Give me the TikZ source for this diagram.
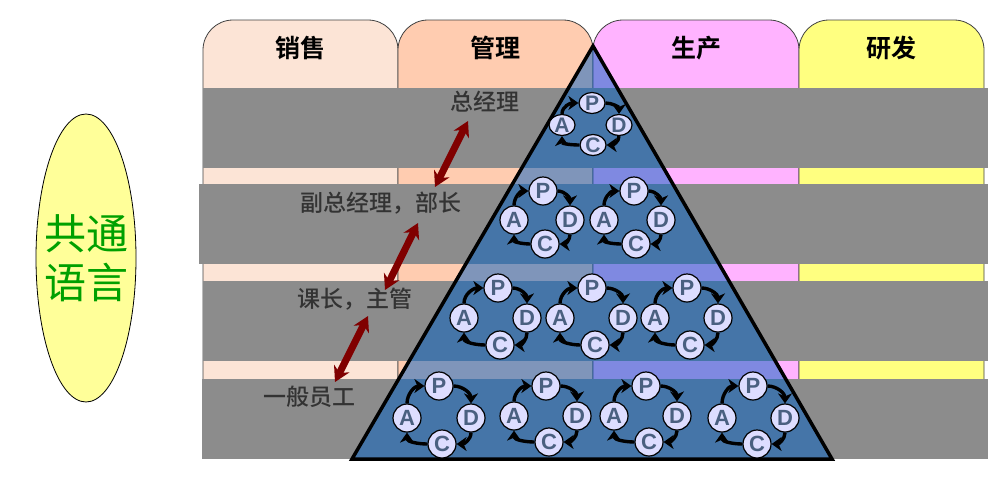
\documentclass[tikz,border=0pt]{standalone}
\usepackage{fontspec}
\usepackage{xcolor}
\setmainfont{Liberation Sans}
\newfontfamily\cjk[BoldFont=Noto Sans CJK SC Bold]{Noto Sans CJK SC}
\newfontfamily\cjkmed{Noto Sans CJK SC Medium}
\usetikzlibrary{arrows.meta,shapes.geometric}
\definecolor{saleC}{HTML}{FCE4D6}
\definecolor{mgmtC}{HTML}{FFCCB0}
\definecolor{prodC}{HTML}{FFB3FF}
\definecolor{rndC}{HTML}{FFFF80}
\definecolor{bandC}{HTML}{8C8C8C}
\definecolor{triC}{HTML}{0060C4}
\definecolor{ringC}{HTML}{DDDDFF}
\definecolor{letterC}{HTML}{4A6080}
\definecolor{rankC}{HTML}{800000}
\definecolor{langC}{HTML}{FFFF99}
\definecolor{langT}{HTML}{00A000}
\tikzset{
  dtab/.style={draw=black!75, line width=0.8pt, rounded corners=30pt},
  dtitle/.style={font=\cjk\bfseries\fontsize{25}{25}\selectfont, text=black, inner sep=0pt},
  dband/.style={fill=bandC, inner sep=0pt, minimum height=80pt},
  drank/.style={font=\cjkmed\fontsize{23}{23}\selectfont, text=black!80, inner sep=0pt},
  dring/.style={draw=black, line width=1.2pt, fill=ringC, ellipse, inner sep=0pt, minimum width=28pt, minimum height=28pt, text=letterC, font=\bfseries\fontsize{22}{22}\selectfont},
  dsmall/.style={dring, minimum width=26pt, minimum height=21pt, font=\bfseries\fontsize{21}{21}\selectfont},
  dcycle/.style={-{Stealth[length=10pt,width=14pt,inset=3pt]}, line width=3.4pt, black},
  dlink/.style={{Stealth[length=15pt,width=17pt]}-{Stealth[length=15pt,width=17pt]}, line width=7pt, rankC}
}
\begin{document}
\begin{tikzpicture}[x=1pt,y=-1pt]
\useasboundingbox (0,0) rectangle (1000,480);
\draw[dtab, fill=saleC] (203,450) |- (300,20) -| (398,450) -- cycle;
\draw[dtab, fill=mgmtC] (398,450) |- (495,20) -| (593,450) -- cycle;
\draw[dtab, fill=prodC] (593,450) |- (695,20) -| (799,450) -- cycle;
\draw[dtab, fill=rndC] (799,450) |- (890,20) -| (984,450) -- cycle;
\node[dtitle] (sale) at (300,48) {销售};
\node[dtitle] (mgmt) at (495,48) {管理};
\node[dtitle] (prod) at (696,48) {生产};
\node[dtitle] (rnd) at (891,48) {研发};
\node[dband, minimum width=785pt] (bandA) at (595.5,128) {};
\node[dband, minimum width=789pt] (bandB) at (593.5,224) {};
\node[dband, minimum width=785pt] (bandC) at (595.5,321) {};
\node[dband, minimum width=786pt] (bandD) at (595,419) {};
\path[fill=triC, fill opacity=0.5] (593,46) -- (832,459) -- (352,459) -- cycle;
\draw[line width=3.5pt, line join=miter] (593,46) -- (832,459) -- (352,459) -- cycle;
\node[draw=black, line width=0.8pt, fill=langC, ellipse, minimum width=100pt, minimum height=288pt, inner sep=0pt] (lang) at (86,258) {};
\node[font=\cjk\fontsize{42}{49}\selectfont, text=langT, align=center, inner sep=0pt] (langtext) at (86,258) {共通\\语言};
\foreach \n/\kind/\px/\py/\ax/\ay/\dx/\dy/\cx/\cy in {
  a/dsmall/592/103/562/125/619/125/593/145,
  b/dring/543/191/514/220/570/220/545/244,
  c/dring/634/191/604/220/661/220/636/244,
  d/dring/498/288/464/318/527/318/500/345,
  e/dring/592/288/560/318/623/318/595/345,
  f/dring/687/288/655/318/718/318/690/345,
  g/dring/439/386/407/418/471/418/442/444,
  h/dring/546/386/514/416/577/416/549/442,
  i/dring/646/386/614/416/677/416/649/442,
  j/dring/753/386/722/418/785/418/757/444}{
  \node[\kind] (p\n) at (\px,\py) {P};
  \node[\kind] (a\n) at (\ax,\ay) {A};
  \node[\kind] (d\n) at (\dx,\dy) {D};
  \node[\kind] (c\n) at (\cx,\cy) {C};
  \draw[dcycle] (a\n.north) to[out=90,in=180] (p\n.west);
  \draw[dcycle] (p\n.east) to[out=0,in=90] (d\n.north);
  \draw[dcycle] (d\n.south) to[out=-90,in=0] (c\n.east);
  \draw[dcycle] (c\n.west) to[out=180,in=-90] (a\n.south);
}
\node[drank] (gm) at (484.5,102) {总经理};
\node[drank] (vp) at (381,203) {副总经理，部长};
\node[drank] (lead) at (354.5,299) {课长，主管};
\node[drank] (staff) at (309,397) {一般员工};
\coordinate (gmlink) at (468,121);
\coordinate (vpup) at (435,187);
\coordinate (vpdown) at (418,223);
\coordinate (leadup) at (385,290);
\coordinate (leaddown) at (368,316);
\coordinate (staffup) at (335,382);
\draw[dlink] (gmlink) -- (vpup);
\draw[dlink] (vpdown) -- (leadup);
\draw[dlink] (leaddown) -- (staffup);
\end{tikzpicture}
\end{document}
